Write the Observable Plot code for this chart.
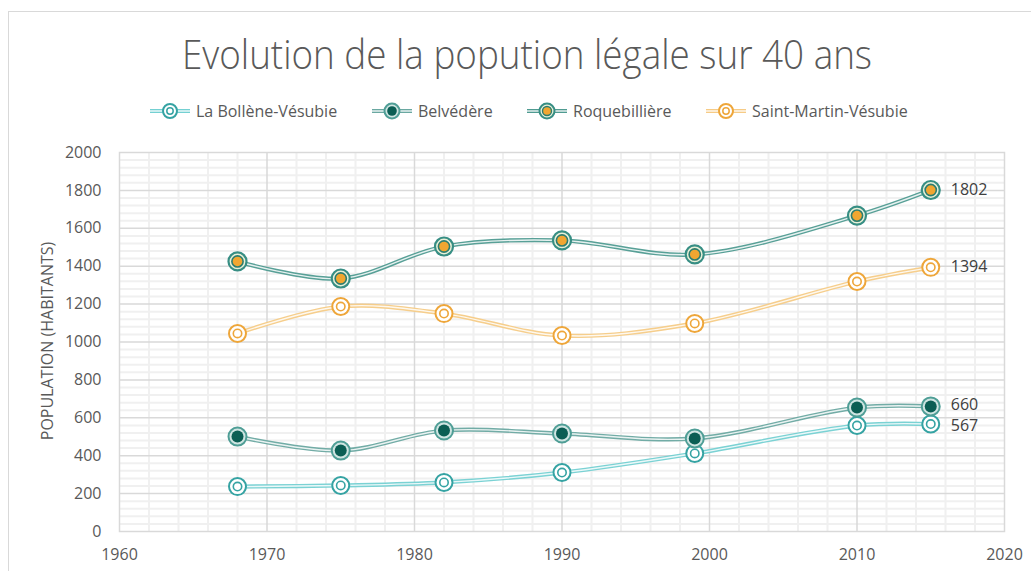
<!DOCTYPE html>
<html>
<head>
<meta charset="utf-8">
<script src="https://cdn.jsdelivr.net/npm/d3@7"></script>
<script src="https://cdn.jsdelivr.net/npm/@observablehq/plot@0.6"></script>
<style>
  html, body { margin: 0; padding: 0; background: #fff; }
  body { width: 1031px; height: 571px; overflow: hidden; position: relative; font-family: "Open Sans", sans-serif; }
  #frame { position: absolute; left: 8px; top: 11px; width: 1100px; height: 700px; border: 1px solid #d9d9d9; box-sizing: border-box; }
  #title { position: absolute; top: 26px; left: 0; white-space: nowrap; font-family: "Open Sans", sans-serif; font-weight: 300; font-size: 40px; color: #595959; transform-origin: 0 0; }
  #legend { position: absolute; top: 98px; left: 0; width: 1031px; height: 26px; }
  .leg { position: absolute; top: 0; display: flex; align-items: center; height: 26px; font-size: 16px; color: #595959; white-space: nowrap; }
  .leg svg { margin-right: 6px; }
  #ylabel { position: absolute; left: 47px; top: 341px; transform: translate(-50%, -50%) rotate(-90deg); font-size: 16px; color: #595959; white-space: nowrap; }
  #chart { position: absolute; left: 0; top: 135px; }
</style>
</head>
<body>
<div id="frame"></div>
<div id="title">Evolution de la popution légale sur 40 ans</div>
<div id="legend"></div>
<div id="ylabel">POPULATION (HABITANTS)</div>
<div id="chart"></div>
<script>
// ---- data ----
const years = [1968, 1975, 1982, 1990, 1999, 2010, 2015];
const seriesNames = ["La Bollène-Vésubie", "Belvédère", "Roquebillière", "Saint-Martin-Vésubie"];
const bollene = [237, 243, 259, 311, 412, 559, 567];
const belvedere = [501, 427, 533, 517, 491, 654, 660];
const roquebilliere = [1425, 1335, 1504, 1536, 1462, 1667, 1802];
const saintMartin = [1045, 1187, 1150, 1034, 1098, 1319, 1394];
const xTicks = [1960, 1970, 1980, 1990, 2000, 2010, 2020];
const yTicks = [0, 200, 400, 600, 800, 1000, 1200, 1400, 1600, 1800, 2000];

// ---- styles ----
const styles = [
  {line: "#74d0d2", ring: "#35a3a3", kind: "ring", labelDy: 2},
  {line: "#6aa8a1", ring: "#4f9e96", kind: "filled", fill: "#0b5e54", labelDy: -1},
  {line: "#4f9b91", ring: "#378e84", kind: "gold", fill: "#f1a631", inner: "#2c7d70", labelDy: 0},
  {line: "#f6cb86", ring: "#eea63a", kind: "ring", labelDy: 0}
];
const allValues = [bollene, belvedere, roquebilliere, saintMartin];
const series = seriesNames.map((name, i) => ({name, values: allValues[i], ...styles[i]}));

const rows = s => years.map((year, i) => ({serie: s.name, year, pop: s.values[i]}));

function markerMarks(s, data) {
  const m = [];
  const o = {x: "year", y: "pop"};
  if (s.kind === "ring") {
    m.push(Plot.dot(data, {...o, r: 8.5, fill: "white", stroke: s.ring, strokeWidth: 2}));
    m.push(Plot.dot(data, {...o, r: 4.2, fill: "none", stroke: s.ring, strokeWidth: 1.6}));
  } else if (s.kind === "filled") {
    m.push(Plot.dot(data, {...o, r: 9, fill: "#cfe5e2", stroke: s.ring, strokeWidth: 2}));
    m.push(Plot.dot(data, {...o, r: 6, fill: s.fill, stroke: "none"}));
  } else {
    m.push(Plot.dot(data, {...o, r: 9, fill: "#e8f0d8", stroke: s.ring, strokeWidth: 2.2}));
    m.push(Plot.dot(data, {...o, r: 5.6, fill: s.fill, stroke: s.inner, strokeWidth: 1.6}));
  }
  return m;
}

const minorX = d3.range(1962, 2020, 2).filter(v => v % 10 !== 0);
const minorY = d3.range(40, 2000, 40).filter(v => v % 200 !== 0);

const marks = [
  Plot.ruleX(minorX, {stroke: "#f0f0f0", strokeWidth: 2}),
  Plot.ruleY(minorY, {stroke: "#f0f0f0", strokeWidth: 2}),
  Plot.ruleX(xTicks.slice(1, -1), {stroke: "#d9d9d9", strokeWidth: 1.5}),
  Plot.ruleY(yTicks.slice(1, -1), {stroke: "#d9d9d9", strokeWidth: 1.5}),
  Plot.frame({stroke: "#d9d9d9", strokeWidth: 1.5}),
  Plot.axisX({ticks: xTicks, tickSize: 0, tickPadding: 17, tickFormat: d => String(d), fontSize: 16, label: null}),
  Plot.axisY({ticks: yTicks, tickSize: 0, tickPadding: 18, tickFormat: d => String(d), fontSize: 16, label: null})
];

for (const s of series) {
  const data = rows(s);
  marks.push(Plot.line(data, {x: "year", y: "pop", curve: "catmull-rom", stroke: s.line, strokeWidth: 4.2, strokeOpacity: 0.95}));
  marks.push(Plot.line(data, {x: "year", y: "pop", curve: "catmull-rom", stroke: "white", strokeWidth: 1.4, strokeOpacity: 0.85}));
  marks.push(...markerMarks(s, data));
  marks.push(Plot.text([data[data.length - 1]], {x: "year", y: "pop", text: d => String(d.pop), dx: 20, dy: s.labelDy, textAnchor: "start", fontSize: 16, lineHeight: 0.9, fill: "#404040"}));
}

const chart = Plot.plot({
  width: 1031,
  height: 436,
  marginTop: 17,
  marginBottom: 40,
  marginLeft: 119,
  marginRight: 27,
  style: {fontFamily: "Open Sans, sans-serif", fontSize: "16px", color: "#595959", background: "transparent"},
  x: {domain: [1960, 2020]},
  y: {domain: [0, 2000]},
  marks
});
document.getElementById("chart").appendChild(chart);

// ---- legend ----
const legendX = [150, 372, 527, 706];
const legend = document.getElementById("legend");
series.forEach((s, i) => {
  const item = document.createElement("div");
  item.className = "leg";
  item.style.left = legendX[i] + "px";
  let marker;
  if (s.kind === "ring") {
    marker = `<circle cx="20" cy="13" r="7" fill="white" stroke="${s.ring}" stroke-width="2"/><circle cx="20" cy="13" r="3.2" fill="none" stroke="${s.ring}" stroke-width="1.5"/>`;
  } else if (s.kind === "filled") {
    marker = `<circle cx="20" cy="13" r="7.5" fill="#cfe5e2" stroke="${s.ring}" stroke-width="2"/><circle cx="20" cy="13" r="4.8" fill="${s.fill}"/>`;
  } else {
    marker = `<circle cx="20" cy="13" r="7.5" fill="#e8f0d8" stroke="${s.ring}" stroke-width="2"/><circle cx="20" cy="13" r="4.5" fill="${s.fill}" stroke="${s.inner}" stroke-width="1.4"/>`;
  }
  item.innerHTML = `<svg width="40" height="26"><line x1="0" x2="40" y1="13" y2="13" stroke="${s.line}" stroke-width="4.2"/><line x1="0" x2="40" y1="13" y2="13" stroke="white" stroke-width="1.4" stroke-opacity="0.85"/>${marker}</svg><span>${s.name}</span>`;
  legend.appendChild(item);
});

// ---- title fit ----
const title = document.getElementById("title");
const w = title.getBoundingClientRect().width;
const targetW = 690;
title.style.left = "182px";
title.style.transform = `scaleX(${targetW / w})`;
</script>
</body>
</html>
